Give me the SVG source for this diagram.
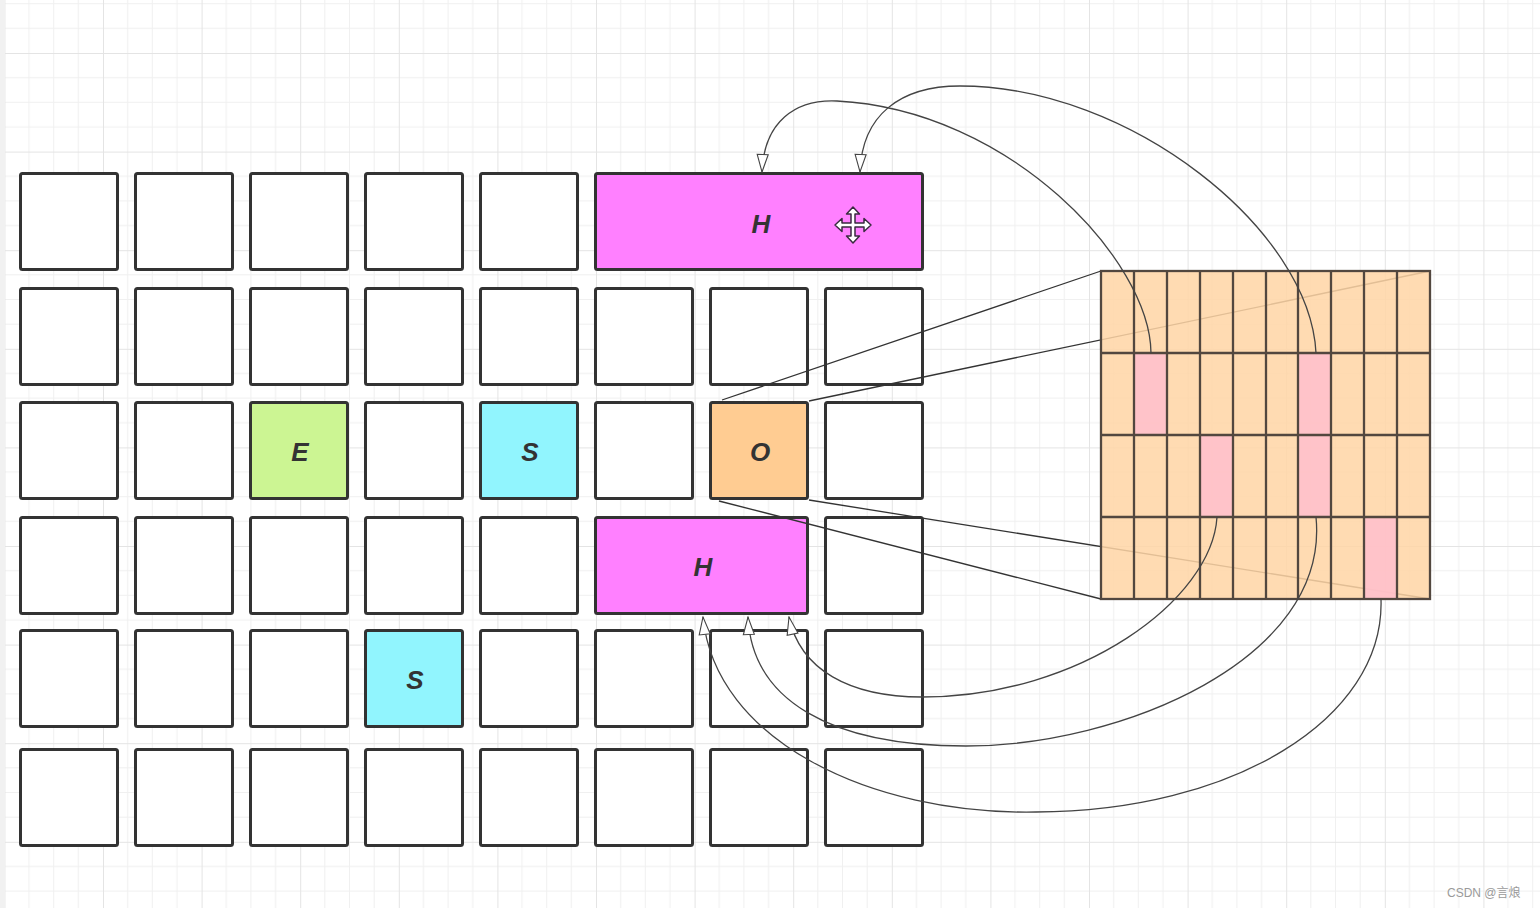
<svg xmlns="http://www.w3.org/2000/svg" width="1540" height="908" viewBox="0 0 1540 908">
<defs>
<pattern id="bg" patternUnits="userSpaceOnUse" x="4.4" y="-45.6" width="98.6" height="98.6">
<path d="M24.65,0V98.6M49.3,0V98.6M73.95,0V98.6M0,24.65H98.6M0,49.3H98.6M0,73.95H98.6" stroke="#f0f0f0" stroke-width="1" fill="none"/>
<path d="M0.5,0V98.6M0,0.5H98.6" stroke="#e4e4e4" stroke-width="1" fill="none"/>
</pattern>
<marker id="open" markerUnits="userSpaceOnUse" markerWidth="20" markerHeight="14" refX="18.5" refY="6.5" orient="auto" viewBox="0 0 20 13">
<path d="M1,1 L18.5,6.5 L1,12 Z" fill="#fff" stroke="#444" stroke-width="1.1"/>
</marker>
</defs>
<style>
.box{fill:#fff;stroke:#333;stroke-width:3}
.lbl{font-family:"Liberation Sans",Arial,sans-serif;font-size:26px;font-weight:bold;font-style:italic;fill:#333;text-anchor:middle}
.proj{stroke:#333;stroke-width:1.3;fill:none}
.curve{stroke:#444;stroke-width:1.3;fill:none;marker-end:url(#open)}
.gl{stroke:#52473f;stroke-width:2.3;fill:none}
</style>
<rect width="1540" height="908" fill="#fff"/>
<rect width="1540" height="908" fill="url(#bg)"/>
<rect x="0" y="0" width="5" height="908" fill="#f1f1f1"/>

<g id="nodes">
<g id="r1c0"><rect class="box" x="20.5" y="173.5" width="97" height="96" rx="2"/></g>
<g id="r1c1"><rect class="box" x="135.5" y="173.5" width="97" height="96" rx="2"/></g>
<g id="r1c2"><rect class="box" x="250.5" y="173.5" width="97" height="96" rx="2"/></g>
<g id="r1c3"><rect class="box" x="365.5" y="173.5" width="97" height="96" rx="2"/></g>
<g id="r1c4"><rect class="box" x="480.5" y="173.5" width="97" height="96" rx="2"/></g>
<g id="H-top"><rect class="box" x="595.5" y="173.5" width="327" height="96" rx="2" style="fill:#ff80ff"/><text class="lbl" x="761" y="233">H</text></g>

<g id="r2c0"><rect class="box" x="20.5" y="288.5" width="97" height="96" rx="2"/></g>
<g id="r2c1"><rect class="box" x="135.5" y="288.5" width="97" height="96" rx="2"/></g>
<g id="r2c2"><rect class="box" x="250.5" y="288.5" width="97" height="96" rx="2"/></g>
<g id="r2c3"><rect class="box" x="365.5" y="288.5" width="97" height="96" rx="2"/></g>
<g id="r2c4"><rect class="box" x="480.5" y="288.5" width="97" height="96" rx="2"/></g>
<g id="r2c5"><rect class="box" x="595.5" y="288.5" width="97" height="96" rx="2"/></g>
<g id="r2c6"><rect class="box" x="710.5" y="288.5" width="97" height="96" rx="2"/></g>
<g id="r2c7"><rect class="box" x="825.5" y="288.5" width="97" height="96" rx="2"/></g>

<g id="r3c0"><rect class="box" x="20.5" y="402.5" width="97" height="96" rx="2"/></g>
<g id="r3c1"><rect class="box" x="135.5" y="402.5" width="97" height="96" rx="2"/></g>
<g id="E"><rect class="box" x="250.5" y="402.5" width="97" height="96" rx="2" style="fill:#ccf593"/><text class="lbl" x="300" y="461">E</text></g>
<g id="r3c3"><rect class="box" x="365.5" y="402.5" width="97" height="96" rx="2"/></g>
<g id="S1"><rect class="box" x="480.5" y="402.5" width="97" height="96" rx="2" style="fill:#91f5fe"/><text class="lbl" x="530" y="461">S</text></g>
<g id="r3c5"><rect class="box" x="595.5" y="402.5" width="97" height="96" rx="2"/></g>
<g id="O"><rect class="box" x="710.5" y="402.5" width="97" height="96" rx="2" style="fill:#ffcc92"/><text class="lbl" x="760" y="461">O</text></g>
<g id="r3c7"><rect class="box" x="825.5" y="402.5" width="97" height="96" rx="2"/></g>

<g id="r4c0"><rect class="box" x="20.5" y="517.5" width="97" height="96" rx="2"/></g>
<g id="r4c1"><rect class="box" x="135.5" y="517.5" width="97" height="96" rx="2"/></g>
<g id="r4c2"><rect class="box" x="250.5" y="517.5" width="97" height="96" rx="2"/></g>
<g id="r4c3"><rect class="box" x="365.5" y="517.5" width="97" height="96" rx="2"/></g>
<g id="r4c4"><rect class="box" x="480.5" y="517.5" width="97" height="96" rx="2"/></g>
<g id="H-bottom"><rect class="box" x="595.5" y="517.5" width="212" height="96" rx="2" style="fill:#ff80ff"/><text class="lbl" x="703" y="576">H</text></g>
<g id="r4c7"><rect class="box" x="825.5" y="517.5" width="97" height="96" rx="2"/></g>

<g id="r5c0"><rect class="box" x="20.5" y="630.5" width="97" height="96" rx="2"/></g>
<g id="r5c1"><rect class="box" x="135.5" y="630.5" width="97" height="96" rx="2"/></g>
<g id="r5c2"><rect class="box" x="250.5" y="630.5" width="97" height="96" rx="2"/></g>
<g id="S2"><rect class="box" x="365.5" y="630.5" width="97" height="96" rx="2" style="fill:#91f5fe"/><text class="lbl" x="415" y="689">S</text></g>
<g id="r5c4"><rect class="box" x="480.5" y="630.5" width="97" height="96" rx="2"/></g>
<g id="r5c5"><rect class="box" x="595.5" y="630.5" width="97" height="96" rx="2"/></g>
<g id="r5c6"><rect class="box" x="710.5" y="630.5" width="97" height="96" rx="2"/></g>
<g id="r5c7"><rect class="box" x="825.5" y="630.5" width="97" height="96" rx="2"/></g>

<g id="r6c0"><rect class="box" x="20.5" y="749.5" width="97" height="96" rx="2"/></g>
<g id="r6c1"><rect class="box" x="135.5" y="749.5" width="97" height="96" rx="2"/></g>
<g id="r6c2"><rect class="box" x="250.5" y="749.5" width="97" height="96" rx="2"/></g>
<g id="r6c3"><rect class="box" x="365.5" y="749.5" width="97" height="96" rx="2"/></g>
<g id="r6c4"><rect class="box" x="480.5" y="749.5" width="97" height="96" rx="2"/></g>
<g id="r6c5"><rect class="box" x="595.5" y="749.5" width="97" height="96" rx="2"/></g>
<g id="r6c6"><rect class="box" x="710.5" y="749.5" width="97" height="96" rx="2"/></g>
<g id="r6c7"><rect class="box" x="825.5" y="749.5" width="97" height="96" rx="2"/></g>
</g>

<g id="connectors-projection">
<path class="proj" d="M722,400 L1101,271"/>
<path class="proj" d="M809,401 L1430,271"/>
<path class="proj" d="M719,501 L1101,599"/>
<path class="proj" d="M809,500 L1430,599"/>
</g>

<g id="table">
<rect x="1101" y="271" width="329" height="328" fill="#ffd5a5" fill-opacity="0.86"/>
<rect x="1134" y="353" width="33" height="82" fill="#ffc0cb" fill-opacity="0.9"/>
<rect x="1298" y="353" width="33" height="164" fill="#ffc0cb" fill-opacity="0.9"/>
<rect x="1200" y="435" width="33" height="82" fill="#ffc0cb" fill-opacity="0.9"/>
<rect x="1364" y="517" width="33" height="82" fill="#ffc0cb" fill-opacity="0.9"/>
<path class="gl" d="M1134,271V599M1167,271V599M1200,271V599M1233,271V599M1266,271V599M1298,271V599M1331,271V599M1364,271V599M1397,271V599M1101,353H1430M1101,435H1430M1101,517H1430"/>
<rect class="gl" x="1101" y="271" width="329" height="328"/>
</g>

<g id="connectors-curves">
<path class="curve" d="M1151,353 C1150,260 1010,110 837,101 C795,99 764,122 762,172"/>
<path class="curve" d="M1316,353 C1310,230 1130,86 960,86 C900,86 862,115 860,172"/>
<path class="curve" d="M1217,517 C1212,600 1080,697 922,697 C850,697 800,670 789,617"/>
<path class="curve" d="M1316,517 C1330,660 1120,746 966,746 C830,746 752,700 748,617"/>
<path class="curve" d="M1381,599 C1385,720 1230,812 1036,812 C870,815 715,740 703,617"/>
</g>

<g id="cursor" transform="translate(853,225)">
<path d="M0,-18 L6.5,-11 L2,-11 L2,-2 L11,-2 L11,-6.5 L18,0 L11,6.5 L11,2 L2,2 L2,11 L6.5,11 L0,18 L-6.5,11 L-2,11 L-2,2 L-11,2 L-11,6.5 L-18,0 L-11,-6.5 L-11,-2 L-2,-2 L-2,-11 L-6.5,-11 Z" fill="#fff" stroke="#3a2a40" stroke-width="1.5" stroke-linejoin="round"/>
</g>

<text x="1447" y="897" font-family="Liberation Sans, 'Noto Sans CJK SC', sans-serif" font-size="12" fill="#9a9a9a">CSDN @言烺</text>
</svg>
